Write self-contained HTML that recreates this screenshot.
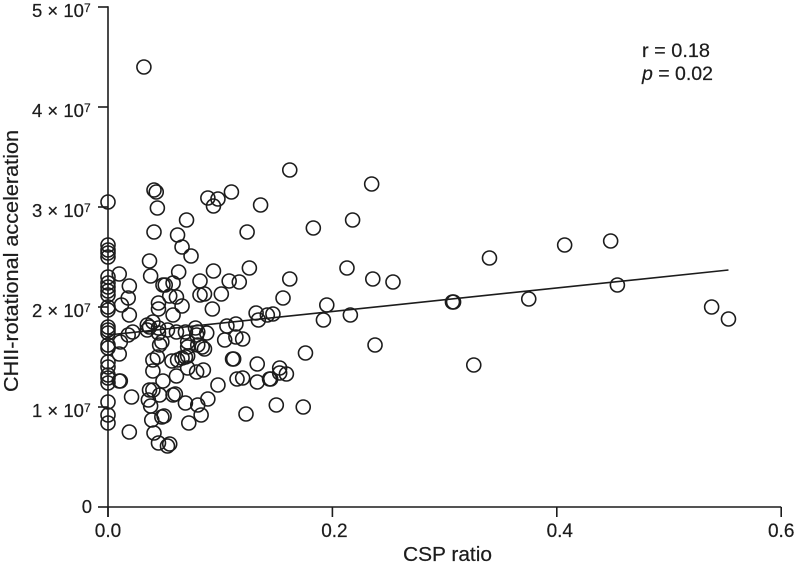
<!DOCTYPE html>
<html lang="en">
<head>
<meta charset="utf-8">
<title>CHII-rotational acceleration vs CSP ratio</title>
<style>
html,body{margin:0;padding:0;background:#fff;}
svg{display:block;}
text{font-family:"Liberation Sans",sans-serif;fill:#1c1c1c;stroke:#1c1c1c;stroke-width:0.2px;}
</style>
</head>
<body>
<svg id="chart" width="795" height="564" viewBox="0 0 795 564" xmlns="http://www.w3.org/2000/svg">
  <g id="axes"></g>
  <g id="points"></g>
  <g id="fit"></g>
  <text transform="translate(18,261) rotate(-90)" text-anchor="middle" font-size="20" textLength="262" lengthAdjust="spacingAndGlyphs">CHII-rotational acceleration</text>
  <text x="447.5" y="561" text-anchor="middle" font-size="20" textLength="89" lengthAdjust="spacingAndGlyphs">CSP ratio</text>
  <text x="642" y="57" font-size="19" textLength="68" lengthAdjust="spacingAndGlyphs">r = 0.18</text>
  <text x="642" y="80" font-size="19" textLength="71" lengthAdjust="spacingAndGlyphs"><tspan font-style="italic">p</tspan> = 0.02</text>
</svg>
<script>
// CSP ratio of each subject
const csp = [
0,0,0,0,0,0,0,0,0,0,0,0,0,0,0,0,0,0,0,0,0,0,0,0,0,
.032,.162,.235,.041,.043,.110,.089,.098,.094,.136,.044,.070,.218,.183,.041,.124,.062,.066,.074,
.010,.037,.038,.063,.094,.126,.213,.340,.407,.448,.162,.236,.254,.082,.108,.117,.058,.049,.051,.019,.454,
.018,.061,.055,.082,.086,.101,.156,.045,.045,.012,.066,.093,.195,.375,.307,.308,.538,.553,.216,.192,.132,.134,.142,.147,.019,.058,
.011,.018,.022,.035,.035,.037,.040,.045,.045,.053,.061,.069,.078,.080,.088,.106,.114,.104,.114,.120,
.048,.046,.071,.071,.079,.080,.084,.086,.010,.111,.112,.133,.040,.044,.057,.062,.069,.071,.066,
.040,.061,.049,.071,.079,.085,.115,.120,.133,.144,.098,.021,.010,.011,.037,.040,.036,.038,.046,.058,.060,.069,.080,.089,
.083,.072,.123,.039,.048,.050,.041,.045,.053,.055,.019,.238,.176,.153,.153,.159,.145,.150,.174,.326
];
// CHII rotational acceleration, in units of 10^7
const accel = [
3.05,2.62,2.57,2.54,2.50,2.30,2.24,2.20,2.16,2.12,2.00,1.97,1.80,1.77,1.74,1.62,1.59,1.45,1.40,1.32,1.29,1.24,1.05,.92,.84,
4.40,3.37,3.23,3.17,3.15,3.15,3.09,3.08,3.01,3.02,2.99,2.87,2.87,2.79,2.75,2.75,2.72,2.60,2.51,
2.33,2.46,2.31,2.35,2.36,2.39,2.39,2.49,2.62,2.66,2.28,2.28,2.25,2.26,2.26,2.25,2.24,2.22,2.22,2.21,2.22,
2.09,2.10,2.11,2.12,2.13,2.13,2.09,2.04,1.98,2.02,2.01,1.98,2.02,2.08,2.05,2.05,2.00,1.88,1.92,1.87,1.94,1.87,1.92,1.93,1.92,1.92,
1.65,1.72,1.75,1.82,1.77,1.80,1.85,1.79,1.74,1.77,1.75,1.75,1.79,1.75,1.74,1.81,1.83,1.67,1.70,1.68,
1.65,1.62,1.65,1.60,1.72,1.62,1.60,1.58,1.53,1.48,1.48,1.43,1.47,1.50,1.46,1.47,1.50,1.51,1.49,
1.36,1.31,1.26,1.39,1.35,1.37,1.28,1.29,1.25,1.28,1.22,1.10,1.26,1.26,1.17,1.17,1.07,1.01,1.12,1.12,1.13,1.04,1.02,1.08,
.92,.84,.93,.87,.90,.91,.74,.64,.61,.63,.75,1.62,1.54,1.39,1.34,1.33,1.28,1.02,1.00,1.42
];
const fitX = [0, .553];
const fitY = [1.72, 2.37];
const xTicks = [0, .2, .4, .6];
const xTickLabels = ["0.0", "0.2", "0.4", "0.6"];
const yTicks = [0, 1, 2, 3, 4, 5];
const yTickLabels = ["0", "1 × 10", "2 × 10", "3 × 10", "4 × 10", "5 × 10"];

const NS = "http://www.w3.org/2000/svg";
const sx = v => 108 + v * 1122;
const sy = v => 507 - v * 100;
const ink = "#1c1c1c";

function line(parent, x1, y1, x2, y2, w) {
  const l = document.createElementNS(NS, "line");
  l.setAttribute("x1", x1);
  l.setAttribute("y1", y1);
  l.setAttribute("x2", x2);
  l.setAttribute("y2", y2);
  l.setAttribute("stroke", ink);
  l.setAttribute("stroke-width", w);
  parent.appendChild(l);
  return l;
}

const axes = document.getElementById("axes");
const xAxis = line(axes, sx(xTicks[0]) - 0.7, sy(0), sx(xTicks[xTicks.length - 1]), sy(0), 1.6);


const yAxis = line(axes, sx(0), sy(yTicks[yTicks.length - 1]) - 0.7, sx(0), sy(0) + 10, 1.6);



xTicks.forEach((t, i) => {
  const tick = line(axes, sx(t), sy(0), sx(t), sy(0) + 10, 1.6);
  
  
  const label = document.createElementNS(NS, "text");
  
  
  label.setAttribute("x", sx(t) + (i === 0 ? 0 : i === 3 ? 0 : i === 2 ? 3 : 2));
  label.setAttribute("y", 537);
  label.setAttribute("text-anchor", "middle");
  label.setAttribute("font-size", "19");
  label.textContent = xTickLabels[i];
  axes.appendChild(label);
});

yTicks.forEach((t, i) => {
  const tick = line(axes, sx(0) - 10, sy(t), sx(0), sy(t), 1.6);
  
  
  const label = document.createElementNS(NS, "text");
  
  
  label.setAttribute("font-size", "18.5");
  if (t === 0) {
    label.setAttribute("x", 92);
    label.setAttribute("y", sy(t) + 6);
    label.setAttribute("text-anchor", "end");
    label.textContent = yTickLabels[i];
  } else {
    label.setAttribute("x", 32);
    label.setAttribute("y", sy(t) + 10);
    label.textContent = yTickLabels[i];
    const sup = document.createElementNS(NS, "tspan");
    sup.setAttribute("font-size", "12");
    sup.setAttribute("dy", "-5");
    sup.textContent = "7";
    label.appendChild(sup);
  }
  axes.appendChild(label);
});

const points = document.getElementById("points");
csp.forEach((v, i) => {
  const c = document.createElementNS(NS, "circle");
  
  
  c.setAttribute("cx", sx(v));
  c.setAttribute("cy", sy(accel[i]));
  c.setAttribute("r", 7);
  c.setAttribute("fill", "none");
  c.setAttribute("stroke", ink);
  c.setAttribute("stroke-width", 1.6);
  points.appendChild(c);
});

const fitLine = line(document.getElementById("fit"), sx(fitX[0]), sy(fitY[0]), sx(fitX[1]), sy(fitY[1]), 1.6);


</script>
</body>
</html>
